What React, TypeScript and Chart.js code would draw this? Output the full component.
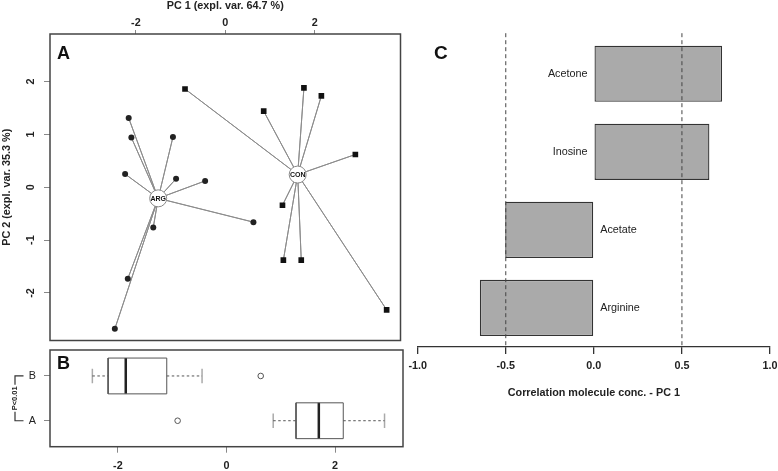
import React, { useEffect, useRef } from "react";
import { Chart, registerables } from "chart.js";

Chart.register(...registerables);

const FONT = "'Liberation Sans', Arial, Helvetica, sans-serif";
const TICK_SIZE = 10.8;

// ---------- Panel A: PCA scores ----------
const argScoresX = [-2.16, -2.1, -1.17, -2.24, -1.1, -0.45, 0.63, -1.61, -2.18, -2.47];
const argScoresY = [1.31, 0.94, 0.95, 0.25, 0.16, 0.12, -0.66, -0.76, -1.73, -2.68];
const conScoresX = [-0.9, 1.76, 2.15, 0.86, 2.91, 1.28, 1.3, 1.7, 3.61];
const conScoresY = [1.86, 1.88, 1.73, 1.44, 0.62, -0.34, -1.38, -1.38, -2.32];
const groupNames = ["ARG", "CON"];
const groupCenterX = [-1.5, 1.62];
const groupCenterY = [-0.21, 0.24];
const pcaXTicks = [-2, 0, 2];
const pcaYTicks = [-2, -1, 0, 1, 2];
const pcaXTitle = "PC 1 (expl. var. 64.7 %)";
const pcaYTitle = "PC 2 (expl. var. 35.3 %)";

// ---------- Panel B: PC1 box plots (A = CON, B = ARG) ----------
const boxLabels = ["A", "B"];
const boxGroupValues = [conScoresX, argScoresX];
const boxXTicks = [-2, 0, 2];
const boxPValue = "P<0.01";

// ---------- Panel C: correlations ----------
const molecules = ["Acetone", "Inosine", "Acetate", "Arginine"];
const correlations = [0.728, 0.656, -0.503, -0.647];
const corrTicks = [-1, -0.5, 0, 0.5, 1];
const corrThresholds = [-0.5, 0.5];
const corrTitle = "Correlation molecule conc. - PC 1";

function setTicks(values: number[]) {
  return (scale: any) => {
    scale.ticks = values.map((v) => ({ value: v }));
  };
}

function fivenum(arr: number[]) {
  const x = [...arr].sort((a, b) => a - b);
  const n = x.length;
  const n4 = Math.floor((n + 3) / 2) / 2;
  const d = [1, n4, (n + 1) / 2, n + 1 - n4, n];
  return d.map((di) => 0.5 * (x[Math.floor(di) - 1] + x[Math.ceil(di) - 1]));
}

function boxStats(arr: number[]) {
  const [, q1, med, q3] = fivenum(arr);
  const iqr = q3 - q1;
  const inside = arr.filter((v) => v >= q1 - 1.5 * iqr && v <= q3 + 1.5 * iqr);
  const lo = Math.min(...inside);
  const hi = Math.max(...inside);
  const out = arr.filter((v) => v < lo || v > hi);
  return { q1, med, q3, lo, hi, out };
}

function framePlugin(letter: string, lx: number, ly: number, size: number, extra?: (chart: any) => void) {
  return {
    id: "frame" + letter,
    afterDatasetsDraw(chart: any) {
      const { ctx, chartArea: a } = chart;
      ctx.save();
      if (extra) extra(chart);
      ctx.strokeStyle = "#444";
      ctx.lineWidth = 1.5;
      ctx.strokeRect(a.left, a.top, a.right - a.left, a.bottom - a.top);
      ctx.fillStyle = "#111";
      ctx.font = `bold ${size}px ${FONT}`;
      ctx.textAlign = "left";
      ctx.textBaseline = "alphabetic";
      ctx.fillText(letter, lx, ly);
      ctx.restore();
    },
  };
}

const tickFont = { family: FONT, size: TICK_SIZE, weight: "bold" as const };

function makeChartA(canvas: HTMLCanvasElement) {
  const star = (cx: number, cy: number, xs: number[], ys: number[]) => {
    const out: { x: number; y: number }[] = [];
    xs.forEach((x, i) => {
      out.push({ x: cx, y: cy });
      out.push({ x, y: ys[i] });
    });
    out.push({ x: cx, y: cy });
    return out;
  };
  const linkStyle = {
    showLine: true,
    pointRadius: 0,
    borderColor: "#8c8c8c",
    borderWidth: 1,
    borderJoinStyle: "round" as const,
    order: 2,
  };
  const centerLabels = {
    id: "centerLabels",
    afterDatasetsDraw(chart: any) {
      const { ctx, scales } = chart;
      ctx.save();
      ctx.fillStyle = "#111";
      ctx.font = `bold 7px ${FONT}`;
      ctx.textAlign = "center";
      ctx.textBaseline = "middle";
      groupNames.forEach((name, i) => {
        ctx.fillText(
          name,
          scales.x.getPixelForValue(groupCenterX[i]),
          scales.y.getPixelForValue(groupCenterY[i]) + 0.5
        );
      });
      ctx.restore();
    },
  };
  return new Chart(canvas, {
    type: "scatter",
    data: {
      datasets: [
        {
          label: "centers",
          data: groupCenterX.map((x, i) => ({ x, y: groupCenterY[i] })),
          pointRadius: 8.5,
          pointBackgroundColor: "#fff",
          pointBorderColor: "#888",
          pointBorderWidth: 1,
          order: 0,
        },
        {
          label: "ARG",
          data: argScoresX.map((x, i) => ({ x, y: argScoresY[i] })),
          pointStyle: "circle",
          pointRadius: 3,
          pointBackgroundColor: "#222",
          pointBorderColor: "#222",
          pointBorderWidth: 0,
          order: 1,
        },
        {
          label: "CON",
          data: conScoresX.map((x, i) => ({ x, y: conScoresY[i] })),
          pointStyle: "rect",
          pointRadius: 4,
          pointBackgroundColor: "#111",
          pointBorderColor: "#111",
          pointBorderWidth: 0,
          order: 1,
        },
        { label: "ARG links", data: star(groupCenterX[0], groupCenterY[0], argScoresX, argScoresY), ...linkStyle },
        { label: "CON links", data: star(groupCenterX[1], groupCenterY[1], conScoresX, conScoresY), ...linkStyle },
      ] as any,
    },
    options: {
      animation: false,
      responsive: false,
      events: [],
      layout: { padding: { top: 0, left: 0, right: 7, bottom: 3 } },
      plugins: { legend: { display: false }, tooltip: { enabled: false } },
      scales: {
        x: {
          type: "linear",
          position: "top",
          min: -3.92,
          max: 3.92,
          afterBuildTicks: setTicks(pcaXTicks),
          afterFit: (s: any) => {
            s.height = 34;
            s.paddingLeft = 0;
            s.paddingRight = 0;
          },
          grid: { drawOnChartArea: false, color: "#888", tickLength: 4 },
          border: { display: false },
          ticks: { padding: 0, color: "#222", font: tickFont, callback: (v: any) => String(v) },
          title: { display: true, text: pcaXTitle, color: "#222", font: tickFont, padding: { top: 0, bottom: 0 } },
        },
        y: {
          type: "linear",
          position: "left",
          min: -2.9,
          max: 2.9,
          afterBuildTicks: setTicks(pcaYTicks),
          afterFit: (s: any) => {
            s.width = 50;
            s.paddingTop = 0;
            s.paddingBottom = 0;
          },
          grid: { drawOnChartArea: false, color: "#888", tickLength: 6 },
          border: { display: false },
          ticks: {
            padding: 8.5,
            minRotation: 90,
            maxRotation: 90,
            crossAlign: "center",
            color: "#222",
            font: tickFont,
            callback: (v: any) => String(v),
          },
          title: { display: true, text: pcaYTitle, color: "#222", font: tickFont, padding: { top: 1, bottom: 0 } },
        },
      },
    } as any,
    plugins: [centerLabels, framePlugin("A", 57, 58.5, 18)],
  });
}

function makeChartB(canvas: HTMLCanvasElement) {
  const half = 0.4;
  const cap = 0.16;
  const datasets: any[] = [];
  const lineBase = { showLine: true, pointRadius: 0, borderWidth: 1, borderColor: "#555" };
  boxGroupValues.forEach((vals, gi) => {
    const p = gi + 1;
    const s = boxStats(vals);
    datasets.push({
      ...lineBase,
      borderJoinStyle: "miter",
      data: [
        { x: s.q1, y: p - half },
        { x: s.q3, y: p - half },
        { x: s.q3, y: p + half },
        { x: s.q1, y: p + half },
        { x: s.q1, y: p - half },
      ],
    });
    datasets.push({ ...lineBase, borderWidth: 2.5, borderColor: "#222", data: [{ x: s.med, y: p - half }, { x: s.med, y: p + half }] });
    datasets.push({ ...lineBase, borderDash: [2.5, 2.5], data: [{ x: s.lo, y: p }, { x: s.q1, y: p }] });
    datasets.push({ ...lineBase, borderDash: [2.5, 2.5], data: [{ x: s.q3, y: p }, { x: s.hi, y: p }] });
    datasets.push({ ...lineBase, borderWidth: 1.5, borderColor: "#aaa", data: [{ x: s.lo, y: p - cap }, { x: s.lo, y: p + cap }] });
    datasets.push({ ...lineBase, borderWidth: 1.5, borderColor: "#aaa", data: [{ x: s.hi, y: p - cap }, { x: s.hi, y: p + cap }] });
    datasets.push({
      data: s.out.map((x) => ({ x, y: p })),
      pointStyle: "circle",
      pointRadius: 2.8,
      pointBackgroundColor: "#fff",
      pointBorderColor: "#555",
      pointBorderWidth: 1,
    });
  });
  const bracket = (chart: any) => {
    const { ctx, scales } = chart;
    const yTop = scales.y.getPixelForValue(2);
    const yBot = scales.y.getPixelForValue(1);
    const bx = 15;
    const ex = 23.5;
    const mid = (yTop + yBot) / 2;
    ctx.font = `bold 7.5px ${FONT}`;
    const tw = ctx.measureText(boxPValue).width;
    ctx.strokeStyle = "#333";
    ctx.lineWidth = 1.2;
    ctx.beginPath();
    ctx.moveTo(ex, yTop);
    ctx.lineTo(bx, yTop);
    ctx.lineTo(bx, mid - tw / 2 - 1.5);
    ctx.moveTo(bx, mid + tw / 2 + 1.5);
    ctx.lineTo(bx, yBot);
    ctx.lineTo(ex, yBot);
    ctx.stroke();
    ctx.save();
    ctx.fillStyle = "#222";
    ctx.translate(bx, mid);
    ctx.rotate(-Math.PI / 2);
    ctx.textAlign = "center";
    ctx.textBaseline = "middle";
    ctx.fillText(boxPValue, 0, 0);
    ctx.restore();
  };
  return new Chart(canvas, {
    type: "scatter",
    data: { datasets },
    options: {
      animation: false,
      responsive: false,
      events: [],
      layout: { padding: { top: 10, left: 0, right: 7, bottom: 0 } },
      plugins: { legend: { display: false }, tooltip: { enabled: false } },
      scales: {
        x: {
          type: "linear",
          position: "bottom",
          min: -3.25,
          max: 3.25,
          afterBuildTicks: setTicks(boxXTicks),
          afterFit: (s: any) => {
            s.height = 24.3;
            s.paddingLeft = 0;
            s.paddingRight = 0;
          },
          grid: { drawOnChartArea: false, color: "#888", tickLength: 6 },
          border: { display: false },
          ticks: { padding: 7.3, color: "#222", font: tickFont, callback: (v: any) => String(v) },
        },
        y: {
          type: "linear",
          position: "left",
          min: 0.42,
          max: 2.58,
          afterBuildTicks: setTicks(boxLabels.map((_, i) => i + 1)),
          afterFit: (s: any) => {
            s.width = 50;
            s.paddingTop = 0;
            s.paddingBottom = 0;
          },
          grid: { drawOnChartArea: false, color: "#888", tickLength: 6 },
          border: { display: false },
          ticks: {
            padding: 8,
            color: "#222",
            font: { family: FONT, size: TICK_SIZE },
            callback: (v: any) => boxLabels[Math.round(v) - 1] ?? "",
          },
        },
      },
    } as any,
    plugins: [framePlugin("B", 57, 28.5, 18, bracket)],
  });
}

function makeChartC(canvas: HTMLCanvasElement) {
  const overlay = {
    id: "corrOverlay",
    afterDatasetsDraw(chart: any) {
      const { ctx, chartArea: a, scales } = chart;
      ctx.save();
      ctx.strokeStyle = "#444";
      ctx.lineWidth = 1;
      ctx.setLineDash([4, 3]);
      corrThresholds.forEach((t) => {
        const x = scales.x.getPixelForValue(t);
        ctx.beginPath();
        ctx.moveTo(x, a.top - 1.5);
        ctx.lineTo(x, a.bottom);
        ctx.stroke();
      });
      ctx.setLineDash([]);
      const meta = chart.getDatasetMeta(0);
      ctx.fillStyle = "#222";
      ctx.font = `${TICK_SIZE}px ${FONT}`;
      ctx.textBaseline = "middle";
      meta.data.forEach((bar: any, i: number) => {
        const { y, base } = bar.getProps(["y", "base"], true);
        if (correlations[i] >= 0) {
          ctx.textAlign = "right";
          ctx.fillText(molecules[i], base - 7, y);
        } else {
          ctx.textAlign = "left";
          ctx.fillText(molecules[i], base + 7, y);
        }
      });
      ctx.fillStyle = "#111";
      ctx.font = `bold 19px ${FONT}`;
      ctx.textAlign = "left";
      ctx.textBaseline = "alphabetic";
      ctx.fillText("C", 29, 58.5);
      ctx.restore();
    },
  };
  return new Chart(canvas, {
    type: "bar",
    data: {
      labels: molecules,
      datasets: [
        {
          data: correlations,
          backgroundColor: "#aaaaaa",
          borderColor: "#333",
          borderWidth: 1.3,
          borderSkipped: false,
          barPercentage: 0.72,
          categoryPercentage: 1,
        },
      ],
    },
    options: {
      indexAxis: "y",
      animation: false,
      responsive: false,
      events: [],
      layout: { padding: { left: 12.7, right: 8, top: 34.7, bottom: 0 } },
      plugins: { legend: { display: false }, tooltip: { enabled: false } },
      scales: {
        x: {
          type: "linear",
          min: -1,
          max: 1,
          afterBuildTicks: setTicks(corrTicks),
          afterFit: (s: any) => {
            s.height = 124;
            s.paddingLeft = 0;
            s.paddingRight = 0;
          },
          grid: { drawOnChartArea: false, color: "#333", tickLength: 7, lineWidth: 1.3 },
          border: { display: true, color: "#333", width: 1.3 },
          ticks: { padding: 6, color: "#222", font: tickFont, callback: (v: any) => Number(v).toFixed(1) },
          title: { display: true, text: corrTitle, color: "#222", font: tickFont, padding: { top: 0, bottom: 71 } },
        },
        y: { display: false },
      },
    } as any,
    plugins: [overlay],
  });
}

export default function App() {
  const refA = useRef<HTMLCanvasElement>(null);
  const refB = useRef<HTMLCanvasElement>(null);
  const refC = useRef<HTMLCanvasElement>(null);
  useEffect(() => {
    const charts = [makeChartA(refA.current!), makeChartB(refB.current!), makeChartC(refC.current!)];
    return () => charts.forEach((c) => c.destroy());
  }, []);
  return (
    <div style={{ position: "fixed", left: 0, top: 0, width: 778, height: 471, background: "#fff", overflow: "hidden" }}>
      <canvas ref={refA} width={410} height={350} style={{ position: "absolute", left: 0, top: 0, width: 410, height: 350 }} />
      <canvas ref={refB} width={410} height={131} style={{ position: "absolute", left: 0, top: 340, width: 410, height: 131 }} />
      <canvas ref={refC} width={373} height={471} style={{ position: "absolute", left: 405, top: 0, width: 373, height: 471 }} />
    </div>
  );
}
